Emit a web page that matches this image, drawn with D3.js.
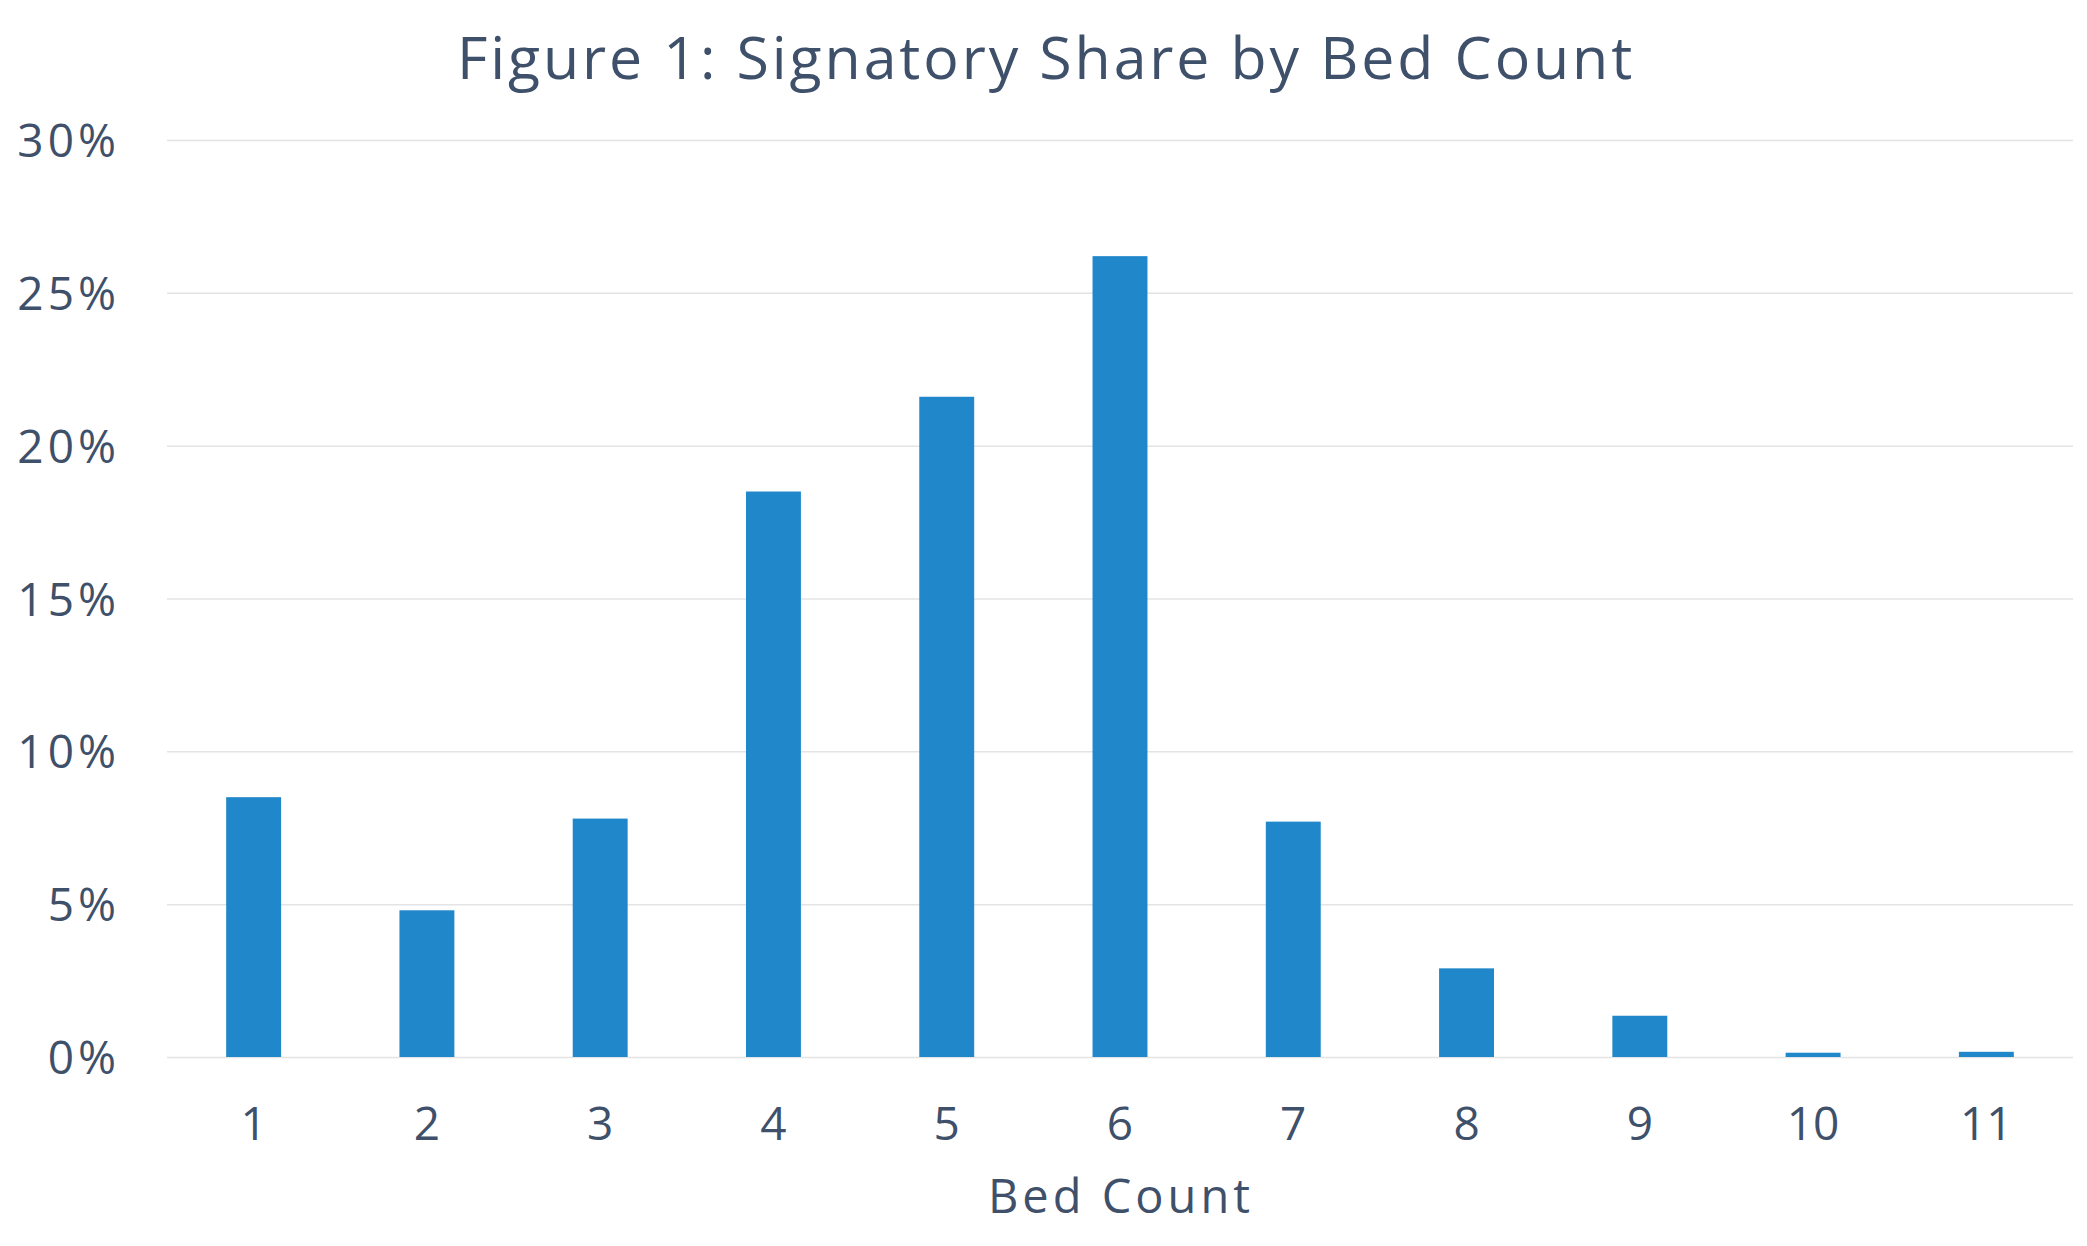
<!DOCTYPE html>
<html>
<head>
<meta charset="utf-8">
<script src="https://cdn.jsdelivr.net/npm/d3@7"></script>
<style>
  html, body { margin: 0; padding: 0; background: #fff; }
  svg text { font-family: "Open Sans", Lato, sans-serif; fill: #3f506a; }
</style>
</head>
<body>
<div id="chart"></div>
<script>
// bed counts and share of signatories (%)
const bedCounts = ['1', '2', '3', '4', '5', '6', '7', '8', '9', '10', '11'];
const shares = [8.5, 4.8, 7.8, 18.5, 21.6, 26.2, 7.7, 2.9, 1.35, 0.14, 0.17];
const yTicks = [0, 5, 10, 15, 20, 25, 30];

const width = 2087;
const height = 1246;
const margin = { top: 140, right: 14, bottom: 189, left: 167 };

const svg = d3.select('#chart')
    .append('svg')
    .attr('width', width)
    .attr('height', height);

const x = d3.scaleBand()
    .domain(bedCounts)
    .range([margin.left, width - margin.right])
    .paddingInner(0.683)
    .paddingOuter(0.683 / 2);

const y = d3.scaleLinear()
    .domain([0, 30])
    .range([height - margin.bottom, margin.top]);

// y axis + gridlines
const yAxis = svg.append('g')
    .attr('transform', `translate(${margin.left},0)`)
    .call(d3.axisLeft(y)
        .tickValues(yTicks)
        .tickSize(-(width - margin.left - margin.right))
        .tickPadding(47)
        .tickFormat(d => d + '%'));
yAxis.select('.domain').remove();
yAxis.selectAll('line').attr('stroke', '#e4e4e4').attr('stroke-width', 1.5);
yAxis.selectAll('text')
    .attr('font-size', 46)
    .attr('letter-spacing', 4)
    .attr('dy', '0.36em');

// bars
svg.selectAll('rect.bar')
    .data(shares)
    .enter()
    .append('rect')
        .attr('class', 'bar')
        .attr('x', (d, i) => x(bedCounts[i]))
        .attr('y', d => y(d))
        .attr('width', x.bandwidth())
        .attr('height', d => y(0) - y(d))
        .attr('fill', '#2187cb');

// x axis
const xAxis = svg.append('g')
    .attr('transform', `translate(0,${height - margin.bottom})`)
    .call(d3.axisBottom(x).tickSize(0).tickPadding(50));
xAxis.select('.domain').remove();
xAxis.selectAll('text').attr('font-size', 46);

// x axis title
svg.append('text')
    .attr('x', 1121)
    .attr('y', 1213)
    .attr('text-anchor', 'middle')
    .attr('font-size', 47)
    .attr('letter-spacing', 4)
    .text('Bed Count');

// chart title
svg.append('text')
    .attr('x', 1046)
    .attr('y', 79)
    .attr('text-anchor', 'middle')
    .attr('font-size', 59)
    .attr('letter-spacing', 2.9)
    .text('Figure 1: Signatory Share by Bed Count');
</script>
</body>
</html>
